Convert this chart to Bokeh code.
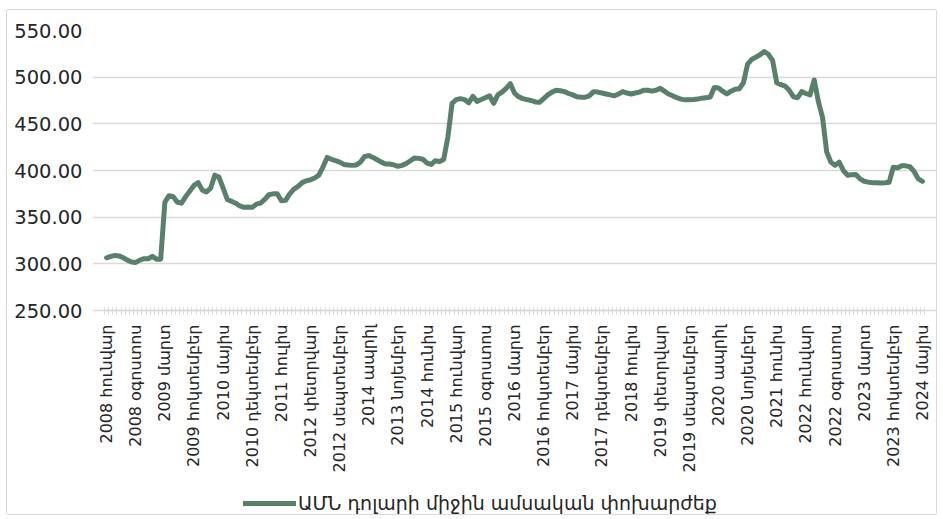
from math import pi
from bokeh.plotting import figure
from bokeh.models import (Range1d, FixedTicker, NumeralTickFormatter, Legend,
                          LegendItem, ColumnDataSource)
from bokeh.embed import file_html
from bokeh.resources import INLINE

# Monthly average USD/AMD exchange rate, Jan 2008 - May 2024
rate_2008 = [306.5, 308, 309, 308.5, 306.5, 304, 302, 301.5, 304, 305.5, 305.5, 308]
rate_2009 = [305, 305, 366, 373, 372, 366, 365, 372, 378, 384, 387, 379]
rate_2010 = [377, 381, 395, 393, 381, 369, 367, 365, 362, 360.5, 361, 360.5]
rate_2011 = [364, 365, 369, 374, 375, 375, 367.5, 368, 375, 380, 383, 387]
rate_2012 = [389, 390, 392, 395, 404, 414, 412, 410.5, 409, 406.5, 406, 405.5]
rate_2013 = [406, 409, 415, 416, 414, 411.5, 409, 407, 407, 406, 404.5, 405.5]
rate_2014 = [407.5, 410.5, 413.5, 413, 412, 408, 406.5, 410.5, 409.5, 412, 436, 472]
rate_2015 = [476, 477, 476, 472.5, 479.5, 474, 476, 478, 480, 472, 481, 484]
rate_2016 = [488, 493, 483, 479, 477, 476, 475, 473.5, 473, 477, 481, 484]
rate_2017 = [486, 485.5, 484.5, 482.5, 481, 479, 478.5, 478.5, 480, 484.5, 484, 483]
rate_2018 = [482, 481, 480, 482, 484.5, 483, 482, 483, 484, 486, 486, 485]
rate_2019 = [486, 488, 485, 482, 480, 478, 476.5, 475.7, 475.7, 476, 476.5, 477.5]
rate_2020 = [478, 478.6, 489, 488.5, 485, 482, 485, 487, 487.5, 494, 514, 519]
rate_2021 = [521.5, 524, 527.5, 524.5, 518, 494, 492, 490.5, 486, 479, 478, 484.5]
rate_2022 = [482.5, 481, 497, 474, 457, 420, 409, 405.5, 409, 400, 395, 395.5]
rate_2023 = [395.7, 391, 388.5, 387.5, 387, 386.8, 386.6, 386.8, 387.3, 403.5, 402.8, 405]
rate_2024 = [405, 404, 399, 391, 388.4]

tick_labels = [
    "2008 հունվար", "2008 օգոստոս", "2009 մարտ", "2009 հոկտեմբեր",
    "2010 մայիս", "2010 դեկտեմբեր", "2011 հուլիս", "2012 փետրվար",
    "2012 սեպտեմբեր", "2014 ապրիլ", "2013 նոյեմբեր", "2014 հունիս",
    "2015 հունվար", "2015 օգոստոս", "2016 մարտ", "2016 հոկտեմբեր",
    "2017 մայիս", "2017 դեկտեմբեր", "2018 հուլիս", "2019 փետրվար",
    "2019 սեպտեմբեր", "2020 ապրիլ", "2020 նոյեմբեր", "2021 հունիս",
    "2022 հունվար", "2022 օգոստոս", "2023 մարտ", "2023 հոկտեմբեր",
    "2024 մայիս",
]
y_ticks = [250, 300, 350, 400, 450, 500, 550]
series_name = "ԱՄՆ դոլարի միջին ամսական փոխարժեք"

rates = (rate_2008 + rate_2009 + rate_2010 + rate_2011 + rate_2012 + rate_2013 +
         rate_2014 + rate_2015 + rate_2016 + rate_2017 + rate_2018 + rate_2019 +
         rate_2020 + rate_2021 + rate_2022 + rate_2023 + rate_2024)
n = len(rates)
months = list(range(n))
step = (n - 1) // (len(tick_labels) - 1)
tick_pos = [k * step for k in range(len(tick_labels))]

source = ColumnDataSource(data=dict(month=months, rate=rates))

LINE = "#58806A"
GRID = "#D9D9D9"

# geometry: plot area is PLOT_W x PLOT_H px; the frame is padded on the sides
# (room for the end labels) and below (room for the labels and the legend)
PLOT_W = 820
PLOT_H = 280
FRAME_H = 484
PLOT_LEFT = 97                 # left edge of the plot area inside the figure
PAD_M = 3                      # padding in months on each side
cat_px = PLOT_W / n
pad_px = round(PAD_M * cat_px)
frame_w = PLOT_W + 2 * pad_px
y_top = y_ticks[-1]
y_low = y_top - FRAME_H * (y_ticks[-1] - y_ticks[0]) / PLOT_H
x_lo, x_hi = -0.5, n - 0.5
pad_units = pad_px / cat_px

p = figure(frame_width=frame_w, frame_height=FRAME_H, output_backend="svg",
           toolbar_location=None,
           x_range=Range1d(x_lo - pad_units, x_hi + pad_units),
           y_range=Range1d(y_low, y_top),
           min_border_left=PLOT_LEFT - pad_px, min_border_right=0,
           min_border_top=20, min_border_bottom=0)
p.styles = {"border": "1px solid #D9D9D9", "border-radius": "2px",
            "margin-left": "6px", "margin-top": "9px"}
p.outline_line_color = None
p.background_fill_color = "white"
p.border_fill_color = "white"

r = p.line("month", "rate", source=source, line_color=LINE, line_width=5,
           line_join="round", line_cap="round")

# x axis (pinned at the bottom of the value scale)
p.xaxis.fixed_location = y_ticks[0]
p.xaxis.bounds = (x_lo, x_hi)
p.xaxis.ticker = FixedTicker(ticks=tick_pos,
                             minor_ticks=[m - 0.5 for m in months] + [n - 0.5])
p.xaxis.major_label_overrides = {t: lab for t, lab in zip(tick_pos, tick_labels)}
p.xaxis.major_label_orientation = pi / 2
p.xaxis.major_label_text_font = "DejaVu Sans"
p.xaxis.major_label_text_font_size = "16px"
p.xaxis.major_label_text_color = "#262626"
p.xaxis.major_label_standoff = 10
p.xaxis.major_tick_line_color = None
p.xaxis.major_tick_in = 0
p.xaxis.major_tick_out = 0
p.xaxis.minor_tick_line_color = GRID
p.xaxis.minor_tick_in = 3
p.xaxis.minor_tick_out = 4
p.xaxis.minor_tick_line_width = 1
p.xaxis.axis_line_color = GRID
p.xaxis.axis_line_width = 1.5
p.xgrid.grid_line_color = None

# y axis
p.yaxis.ticker = FixedTicker(ticks=y_ticks)
p.yaxis.formatter = NumeralTickFormatter(format="0.00")
p.yaxis.major_label_text_font = "DejaVu Sans"
p.yaxis.major_label_text_font_size = "19.5px"
p.yaxis.major_label_text_color = "#262626"
p.yaxis.major_label_standoff = 22 - pad_px
p.yaxis.major_tick_in = 0
p.yaxis.major_tick_out = 0
p.yaxis.axis_line_color = None
p.yaxis.major_tick_line_color = None
p.yaxis.minor_tick_line_color = None
p.ygrid.grid_line_color = GRID
p.ygrid.grid_line_width = 1.5
p.ygrid.bounds = (x_lo, x_hi)

legend = Legend(items=[LegendItem(label=series_name, renderers=[r])],
                location=(139 + pad_px, 0), orientation="horizontal",
                glyph_width=53, glyph_height=20, label_standoff=2,
                label_text_font="DejaVu Sans", label_text_font_size="19px",
                label_text_color="#262626", border_line_color=None,
                background_fill_alpha=0, padding=7, margin=0)
p.add_layout(legend, "center")

open("out.html", "w").write(file_html(p, INLINE))
